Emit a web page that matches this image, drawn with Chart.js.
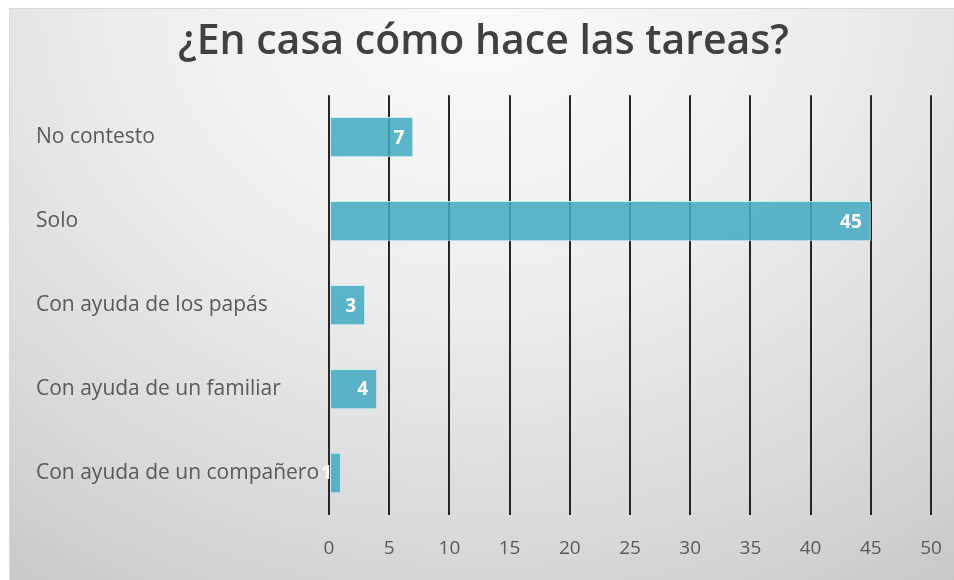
<!DOCTYPE html>
<html>
<head>
<meta charset="utf-8">
<script src="https://cdn.jsdelivr.net/npm/chart.js@4"></script>
<style>
  html, body { margin: 0; padding: 0; background: #ffffff; }
  #wrap { position: absolute; left: 0; top: 0; width: 954px; height: 580px; }
</style>
</head>
<body>
<div id="wrap"><canvas id="c" width="954" height="580"></canvas></div>
<script>
const categories = ['No contesto', 'Solo', 'Con ayuda de los papás', 'Con ayuda de un familiar', 'Con ayuda de un compañero'];
const values = [7, 45, 3, 4, 1];
const chartTitle = '¿En casa cómo hace las tareas?';
const xMin = 0, xMax = 50, xStep = 5;

const bgPlugin = {
  id: 'bg',
  beforeDraw(chart) {
    const ctx = chart.ctx;
    const W = chart.width, H = chart.height;
    ctx.save();
    ctx.fillStyle = '#ffffff';
    ctx.fillRect(0, 0, W, H);
    ctx.restore();
    ctx.save();
    ctx.translate(477, 0);
    ctx.scale(1, 600 / 700);
    const g = ctx.createRadialGradient(0, 0, 0, 0, 0, 840);
    g.addColorStop(0, '#fbfbfb');
    g.addColorStop(0.42, '#ededed');
    g.addColorStop(0.83, '#d4d4d4');
    g.addColorStop(1, '#c7c7c7');
    ctx.fillStyle = g;
    ctx.fillRect(9 - 477, 9 * 700 / 600, W, H * 700 / 600);
    ctx.restore();
    ctx.save();
    ctx.strokeStyle = '#d9d9d9';
    ctx.lineWidth = 1;
    ctx.beginPath();
    ctx.moveTo(9.5, H);
    ctx.lineTo(9.5, 8.5);
    ctx.lineTo(W, 8.5);
    ctx.stroke();
    ctx.restore();
  }
};

const labelPlugin = {
  id: 'valueLabels',
  afterDatasetsDraw(chart) {
    const ctx = chart.ctx;
    const meta = chart.getDatasetMeta(0);
    ctx.save();
    ctx.fillStyle = '#ffffff';
    ctx.font = 'bold 19px "Open Sans", sans-serif';
    ctx.textAlign = 'right';
    ctx.textBaseline = 'middle';
    meta.data.forEach((bar, i) => {
      ctx.fillText(String(values[i]), bar.x - 9, bar.y + 1);
    });
    ctx.restore();
  }
};

new Chart(document.getElementById('c'), {
  type: 'bar',
  data: {
    labels: categories,
    datasets: [{
      data: values,
      backgroundColor: 'rgba(67,170,194,0.86)',
      borderColor: 'rgba(205,235,242,0.9)',
      borderWidth: 1,
      borderSkipped: false,
      barPercentage: 0.48,
      categoryPercentage: 1
    }]
  },
  options: {
    indexAxis: 'y',
    responsive: false,
    animation: false,
    devicePixelRatio: 1,
    layout: { padding: { left: 36, right: 23, top: 0, bottom: 0 } },
    plugins: {
      legend: { display: false },
      tooltip: { enabled: false },
      title: {
        display: true,
        text: chartTitle,
        color: '#404040',
        font: { family: '"Open Sans", sans-serif', size: 41, weight: '600', lineHeight: 1.2 },
        padding: { top: 18, bottom: 28 }
      }
    },
    scales: {
      x: {
        min: xMin, max: xMax,
        ticks: { stepSize: xStep, color: '#595959', font: { family: '"Open Sans", sans-serif', size: 19 }, padding: 22 },
        grid: { color: '#262626', lineWidth: 2, drawTicks: false },
        border: { display: false },
        afterFit(s) { s.height = 65; s.paddingLeft = 0; s.paddingRight = 0; }
      },
      y: {
        ticks: { color: '#595959', crossAlign: 'far', font: { family: '"Open Sans", sans-serif', size: 21 } },
        grid: { display: false },
        border: { display: false },
        afterFit(s) { s.width = 293; s.paddingTop = 0; s.paddingBottom = 0; }
      }
    }
  },
  plugins: [bgPlugin, labelPlugin]
});
</script>
</body>
</html>
